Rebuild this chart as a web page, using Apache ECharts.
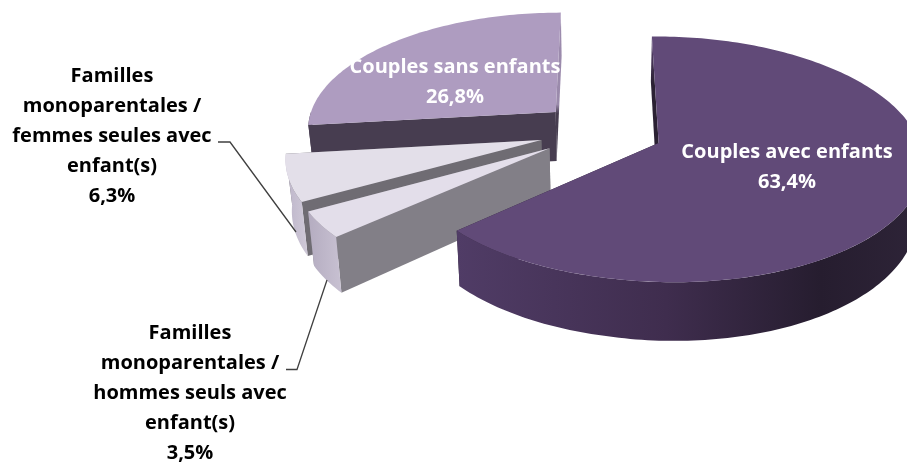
<!DOCTYPE html>
<html>
<head>
<meta charset="utf-8">
<style>html,body{margin:0;padding:0;background:#fff}#chart{width:907px;height:463px}</style>
<script src="https://cdn.jsdelivr.net/npm/echarts@6/dist/echarts.min.js"></script>
</head>
<body>
<div id="chart"></div>
<script>
// Household types, clockwise from twelve o'clock
const categories = [
  'Couples avec enfants',
  'Familles\nmonoparentales /\nhommes seuls avec\nenfant(s)',
  'Familles\nmonoparentales /\nfemmes seules avec\nenfant(s)',
  'Couples sans enfants'
];
const shares = [63.4, 3.5, 6.3, 26.8];

// Slice colours
const topColors = ['#614a78', '#e3deea', '#e3dfe9', '#ae9cc0'];
const radialColors = ['#2b2133', '#827f87', '#6f6c73', '#473d50'];
const rimStops = [
  [[0, '#503c66'], [0.45, '#3f2d4e'], [0.78, '#261d2f'], [1, '#2e2438']],
  [[0, '#b4acc0'], [1, '#c8c1d2']],
  [[0, '#bdb5c9'], [1, '#cfc9d8']],
  [[0, '#473d50'], [1, '#473d50']]
];
// Back-to-front painting order of the slices
const paintOrder = [3, 2, 1, 0];

// Tilted-disc projection, in units of the horizontal radius / tilted vertical radius
const perspective = 0.13;
const sideways = 0.02;
const explode = 0.248;
const thickness = 0.427;
const floorShrink = 0.98;

function project(u, v, lower) {
  const s = 1 / (1 - perspective * v - sideways * Math.max(u, 0));
  return lower
    ? [u * s * floorShrink, v * s + thickness * s]
    : [u * s, v * s];
}

const total = shares.reduce((a, b) => a + b, 0);
const spans = [];
shares.reduce((acc, val) => {
  const next = acc + val / total * Math.PI * 2;
  spans.push([acc, next]);
  return next;
}, 0);

function renderSlice(params, api) {
  const i = api.value(0);
  const [a0, a1] = spans[i];
  const mid = (a0 + a1) / 2;
  const ox = explode * Math.sin(mid);
  const oy = -explode * Math.cos(mid);
  const rim = (a) => [ox + Math.sin(a), oy - Math.cos(a)];
  const px = (p, lower) => api.coord(project(p[0], p[1], lower));
  const apex = [ox, oy];

  const arc = (from, to) => {
    const pts = [];
    const n = Math.max(2, Math.ceil((to - from) / 0.02));
    for (let k = 0; k <= n; k++) pts.push(rim(from + (to - from) * k / n));
    return pts;
  };
  const wall = (p, fill) => ({
    type: 'polygon',
    shape: { points: [px(apex), px(p), px(p, true), px(apex, true)] },
    style: { fill }
  });
  // The thin back walls fade into the top face towards the far rim
  const fade = new echarts.graphic.LinearGradient(0, 0, 0, 1, [
    { offset: 0, color: topColors[i] },
    { offset: 0.3, color: radialColors[i] },
    { offset: 1, color: radialColors[i] }
  ]);
  const backFade = new echarts.graphic.LinearGradient(0, 0, 0, 1, [
    { offset: 0, color: '#9d8cae' },
    { offset: 0.62, color: '#9a8aab' },
    { offset: 0.68, color: radialColors[i] },
    { offset: 1, color: radialColors[i] }
  ]);

  const children = [
    wall(rim(a1), i === 3 ? backFade : radialColors[i]),
    wall(rim(a0), i === 0 ? fade : radialColors[i])
  ];

  // Outer rim: only the part that faces the viewer
  const f0 = Math.max(a0, Math.PI / 2);
  const f1 = Math.min(a1, Math.PI * 1.5);
  if (f1 > f0) {
    const front = arc(f0, f1);
    children.push({
      type: 'polygon',
      shape: {
        points: front.map(p => px(p)).concat(front.slice().reverse().map(p => px(p, true)))
      },
      style: {
        fill: new echarts.graphic.LinearGradient(
          0, 0, 1, 0,
          rimStops[i].map(s => ({ offset: s[0], color: s[1] }))
        )
      }
    });
  }

  children.push({
    type: 'polygon',
    shape: { points: [px(apex)].concat(arc(a0, a1).map(p => px(p))) },
    style: { fill: topColors[i] }
  });
  return { type: 'group', children };
}

const percent = (v) => v.toFixed(1).replace('.', ',') + '%';
const labelFont = { fontFamily: '"Open Sans", sans-serif', fontWeight: 700, fontSize: 20, lineHeight: 30 };
const label = (i, x, y, fill) => ({
  type: 'text',
  z: 100,
  x, y,
  style: Object.assign({
    text: categories[i] + '\n' + percent(shares[i]),
    align: 'center',
    verticalAlign: 'top',
    fill
  }, labelFont)
});
const leader = (points) => ({
  type: 'polyline',
  z: 100,
  shape: { points },
  style: { stroke: '#404040', lineWidth: 1.3, fill: null }
});

const chart = echarts.init(document.getElementById('chart'), null, { renderer: 'canvas' });
chart.setOption({
  animation: false,
  backgroundColor: '#ffffff',
  grid: { left: 0, right: 0, top: 0, bottom: 0 },
  xAxis: { type: 'value', show: false, min: -601 / 250, max: 306 / 250 },
  yAxis: { type: 'value', show: false, inverse: true, min: -131 / 117, max: 332 / 117 },
  series: [{
    type: 'custom',
    coordinateSystem: 'cartesian2d',
    clip: false,
    renderItem: renderSlice,
    encode: { x: 0, y: 0 },
    data: paintOrder.map(i => [i])
  }],
  graphic: [
    leader([[218, 142], [230, 142], [296, 232]]),
    leader([[286, 369.5], [297, 369.5], [327, 280]]),
    label(0, 787, 137, '#ffffff'),
    label(3, 455, 52, '#ffffff'),
    label(2, 112, 61, '#000000'),
    label(1, 190, 318, '#000000')
  ]
});
</script>
</body>
</html>
